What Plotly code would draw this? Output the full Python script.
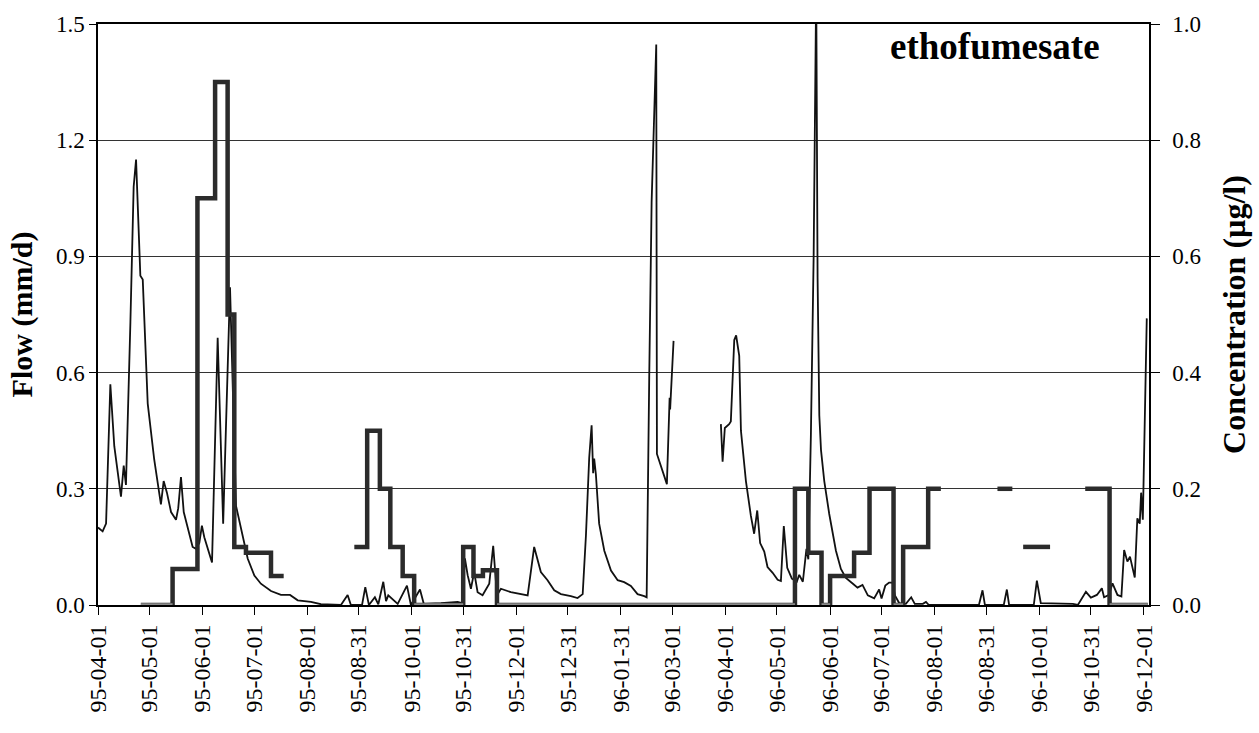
import pandas as pd
import plotly.graph_objects as go

START = pd.Timestamp("1995-04-01")

# Daily flow (mm/d), day offset from 1995-04-01; None = missing data
flow_day = [0, 2.7, 4.7, 7.2, 9.5, 13.4, 15, 16.3, 18.9, 20.8, 22.2, 23.5, 24.7, 26.1, 28, 29,
            32.8, 36.7, 38.3, 40.2, 42.6, 45.5, 46.8, 48.4, 50, 52.3, 55.2, 57.1, 59.1, 60.6, 62,
            66.5, 69.8, 73, 77, 80.5, 82.4, 85.3, 87.3, 91.2, 95, 100.9, 106.7, 112, 116.5, 124.2,
            130, 141.7, 145.6, 147.5, 154, 155.9, 158, 161.5, 163.5, 166.4, 168, 169.3, 171.9,
            174.8, 180.2, 182.5, 187.8, 190, 200, 209.8, 212.3, 214, 215.6, 217.5, 219.4, 221.4,
            224.3, 228.2, 230.5, 232.7, 235, 240.8, 250.6, 254.4, 258.3, 262.2, 266.1, 270, 275.8,
            279.7, 282.7, 284.6, 286.5, 287.9, 288.8, 289.4, 290.4, 292.3, 295.3, 299.2, 303.1,
            306.9, 310.8, 314.7, 318.6, 320, 321.5, 322.9, 325.6, 326, 331.8, 333.4, 333.7, 334.2,
            335.7, None,
            363.3, 364.3, 365.6, 368.1, 369.1, 371.1, 372.2, 374, 375, 377.9, 380.8, 382.7, 384.5,
            386.2, 388.6, 390.5, 393.5, 396.4, 398.3, 400, 402, 404.7, 407.6, 409, 411.1, 413.2,
            414.3, 415.8, 417.4, 418.9, 419.7, 420.7, 421.7, 423.6, 426.5, 430.4, 433.3, 436.2,
            440.3, 443, 445.9, 449, 452.7, 455.6, 457, 459.2, 461.4, 463.4, 464.8, 467.3, 471.2,
            474.3, 476.4, 481.1, 482.9, 484.6, 513.8, 515.9, 517.3, 528.3, 530.1, 531.4, 545.8,
            547.6, 549.9, 568.6, 571.5, 576.2, 579.1, 582.6, 585.5, 586.8, 589.7, 591.7, 594.6,
            596.9, 598.5, 600.4, 601.9, 604.7, 606.2, 607.6, 608.4, 609.4, 611.7]
flow_val = [0.20, 0.19, 0.21, 0.57, 0.41, 0.28, 0.36, 0.31, 0.73, 1.08, 1.15, 1.01, 0.85, 0.84, 0.60, 0.52,
            0.375, 0.26, 0.32, 0.29, 0.24, 0.22, 0.25, 0.33, 0.24, 0.20, 0.15, 0.145, 0.16, 0.205, 0.175,
            0.11, 0.69, 0.21, 0.82, 0.256, 0.22, 0.16, 0.12, 0.076, 0.055, 0.036, 0.026, 0.026, 0.012, 0.008,
            0.002, 0.0, 0.026, 0.0, 0.0, 0.046, 0.0, 0.02, 0.002, 0.06, 0.01, 0.025, 0.015,
            0.003, 0.05, 0.0, 0.04, 0.003, 0.005, 0.008, 0.005, 0.12, 0.077, 0.042, 0.085, 0.033,
            0.025, 0.055, 0.153, 0.025, 0.042, 0.033, 0.025, 0.15, 0.085, 0.064, 0.038, 0.028, 0.023,
            0.018, 0.028, 0.18, 0.38, 0.464, 0.34, 0.378, 0.337, 0.21, 0.14, 0.089, 0.064,
            0.059, 0.049, 0.028, 0.023, 0.02, 0.586, 1.04, 1.447, 0.39, 0.312, 0.535, 0.505, 0.545,
            0.682, None,
            0.467, 0.37, 0.457, 0.467, 0.474, 0.684, 0.696, 0.643, 0.45, 0.32, 0.23, 0.184, 0.244,
            0.16, 0.138, 0.098, 0.083, 0.065, 0.062, 0.204, 0.096, 0.068, 0.06, 0.078, 0.06, 0.145,
            0.118, 0.44, 0.9, 1.6, 0.845, 0.49, 0.40, 0.32, 0.235, 0.14, 0.093, 0.07,
            0.055, 0.045, 0.052, 0.025, 0.017, 0.04, 0.017, 0.05, 0.058, 0.058, 0.025, 0.005, 0.003,
            0.02, 0.003, 0.003, 0.008, 0.0, 0.0, 0.038, 0.0, 0.0, 0.04, 0.0, 0.0,
            0.063, 0.005, 0.003, 0.0, 0.034, 0.019, 0.026, 0.043, 0.02, 0.026, 0.056, 0.026,
            0.022, 0.142, 0.112, 0.125, 0.071, 0.224, 0.21, 0.29, 0.22, 0.74]

# Concentration (ug/l) per composite sampling period, day offsets from 1995-04-01
conc_start = [25, 43.5, 58, 68.3, 75.6, 79.5, 86.3, 100.9,
              149.5, 157, 164.4, 170.5, 177.7, 184.4, 213, 219, 224.5, 232.7,
              406.5, 414.3, 422, 427, 441, 450, 464, 469.6, 484.2,
              524.6, 539.6, 575.8, 590]
conc_end = [43.5, 58, 68.3, 75.6, 79.5, 86.3, 100.9, 108.3,
            157, 164.4, 170.5, 177.7, 184.4, 213, 219, 224.5, 232.7, 406.5,
            414.3, 422, 427, 441, 450, 464, 469.6, 484.2, 491.6,
            533.3, 555.3, 590, 612.3]
conc_val = [0.0, 0.062, 0.70, 0.90, 0.50, 0.10, 0.09, 0.05,
            0.10, 0.30, 0.20, 0.10, 0.05, 0.0, 0.10, 0.05, 0.06, 0.0,
            0.20, 0.09, 0.0, 0.05, 0.09, 0.20, 0.0, 0.10, 0.20,
            0.20, 0.10, 0.20, 0.0]

tick_labels = ["95-04-01", "95-05-01", "95-06-01", "95-07-01", "95-08-01", "95-08-31",
               "95-10-01", "95-10-31", "95-12-01", "95-12-31", "96-01-31", "96-03-01",
               "96-04-01", "96-05-01", "96-06-01", "96-07-01", "96-08-01", "96-08-31",
               "96-10-01", "96-10-31", "96-12-01"]


def to_date(d):
    return None if d is None else START + pd.Timedelta(days=d)


flow_x = [to_date(d) for d in flow_day]

# step line built from the sampling periods
cx, cy = [], []
prev_end = None
for s, e, v in zip(conc_start, conc_end, conc_val):
    if prev_end is not None and abs(s - prev_end) > 0.01:
        cx.append(None)
        cy.append(None)
    cx += [to_date(s), to_date(e)]
    cy += [v, v]
    prev_end = e

# zero-valued periods (drawn lighter on the baseline, as in the scan)
zx, zy = [], []
for s, e, v in zip(conc_start, conc_end, conc_val):
    if v == 0:
        zx += [to_date(s), to_date(e), None]
        zy += [v, v, None]

tick_vals = [pd.Timestamp("19" + t) for t in tick_labels]

FONT = "Liberation Serif, Times New Roman, serif"

fig = go.Figure()
fig.add_trace(go.Scatter(x=flow_x, y=flow_val, mode="lines", name="Flow",
                         line=dict(color="#111111", width=1.8), connectgaps=False,
                         yaxis="y", showlegend=False))
fig.add_trace(go.Scatter(x=cx, y=cy, mode="lines", name="Concentration",
                         line=dict(color="#2b2b2b", width=4.5), connectgaps=False,
                         yaxis="y2", showlegend=False))
fig.add_trace(go.Scatter(x=zx, y=zy, mode="lines", name="Concentration (zero)",
                         line=dict(color="#8c8c8c", width=3.5), connectgaps=False,
                         yaxis="y2", showlegend=False, hoverinfo="skip"))

fig.update_layout(
    width=1259, height=733,
    margin=dict(l=98, r=110, t=20, b=128),
    paper_bgcolor="white", plot_bgcolor="white",
    font=dict(family=FONT, color="black"),
    xaxis=dict(type="date", range=[START, START + pd.Timedelta(days=613)],
               tickmode="array", tickvals=tick_vals, ticktext=tick_labels,
               tickangle=-90, tickfont=dict(family=FONT, size=24, color="black"),
               ticks="outside", ticklen=8, tickcolor="black",
               showline=True, linecolor="black", linewidth=1.8, mirror=True,
               showgrid=False, zeroline=False),
    yaxis=dict(range=[0, 1.5], tick0=0, dtick=0.3, tickformat=".1f",
               tickfont=dict(family=FONT, size=23, color="black"),
               ticks="outside", ticklen=7, tickcolor="black",
               showline=True, linecolor="black", linewidth=1.5,
               showgrid=True, gridcolor="#333333", gridwidth=1, zeroline=False,
               title=dict(text="<b>Flow (mm/d)</b>", font=dict(family=FONT, size=30, color="black"),
                          standoff=14)),
    yaxis2=dict(range=[0, 1.0], tick0=0, dtick=0.2, tickformat=".1f",
                overlaying="y", side="right",
                tickfont=dict(family=FONT, size=23, color="black"),
                ticks="outside", ticklen=9, tickcolor="black", ticklabelstandoff=8,
                showline=True, linecolor="black", linewidth=1.5,
                showgrid=False, zeroline=False,
                title=dict(text="<b>Concentration (µg/l)</b>",
                           font=dict(family=FONT, size=32, color="black"), standoff=22)),
    annotations=[dict(text="<b>ethofumesate</b>", xref="paper", yref="paper",
                      x=0.8535, y=0.962, xanchor="center", yanchor="middle", showarrow=False,
                      font=dict(family=FONT, size=37, color="black"))],
)

fig.write_html("out.html")
